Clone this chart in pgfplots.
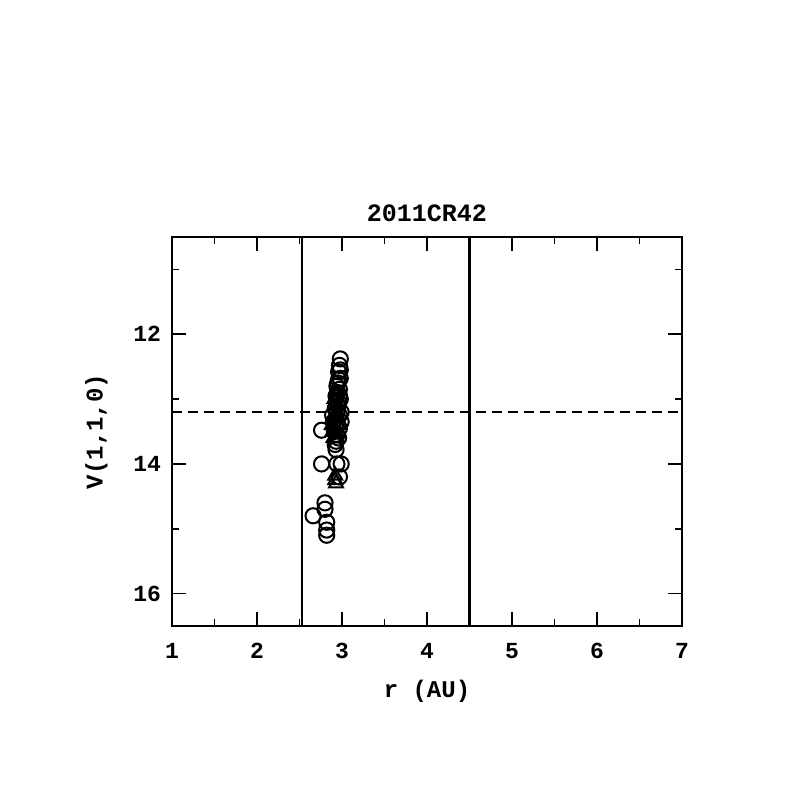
\documentclass[border=0pt]{standalone}
\usepackage{pgfplots}
\pgfplotsset{compat=1.18}
\usepackage{fontspec}
\setmainfont{Liberation Mono}
\begin{document}
\begin{tikzpicture}
\path[use as bounding box] (0,0) rectangle (398.5pt,398.5pt);
\begin{axis}[
  at={(86pt,85.5pt)}, anchor=south west,
  scale only axis, width=255pt, height=194.5pt,
  xmin=1, xmax=7, ymin=10.5, ymax=16.5, y dir=reverse,
  xtick={1,2,3,4,5,6,7}, minor xtick={1.5,2.5,3.5,4.5,5.5,6.5},
  ytick={12,14,16}, minor ytick={11,13,15},
  tick align=inside, major tick length=7pt, minor tick length=3.5pt,
  tick style={black, line width=0.9pt},
  axis line style={line width=1pt},
  /pgf/number format/assume math mode=true,
  ticklabel style={font=\bfseries\fontsize{11.5}{13}\selectfont},
  xticklabel style={yshift=-5pt},
  yticklabel style={xshift=-2pt},
  title={\bfseries\fontsize{12.5}{14}\selectfont 2011CR42},
  title style={yshift=-2pt},
  xlabel={\bfseries\fontsize{12}{13}\selectfont r (AU)},
  ylabel={\bfseries\fontsize{12}{13}\selectfont V(1,1,0)},
  xlabel style={yshift=-4pt},
  ylabel style={yshift=6pt},
  clip=false,
]
\addplot[black, line width=1.1pt] coordinates {(2.53,10.5) (2.53,16.5)};
\addplot[black, line width=1.1pt] coordinates {(4.5,10.5) (4.5,16.5)};
\addplot[black, line width=0.9pt, dash pattern=on 5pt off 3pt] coordinates {(1,13.2) (7,13.2)};
\addplot[only marks, mark=o, mark size=3.8pt, mark options={line width=1pt}] coordinates {
(2.66,14.80) (2.76,13.48) (2.76,14.00) (2.80,14.60) (2.80,14.70) (2.82,14.90) (2.82,15.02) (2.82,15.10)
(2.93,13.78) (2.93,13.65) (2.94,14.00) (2.99,14.00) (2.97,14.20)
(2.98,12.38) (2.97,12.48) (2.96,12.58) (2.95,12.75) (2.94,12.80) (2.98,12.55) (2.98,12.68)
(2.97,12.85) (2.97,12.95) (2.96,13.05) (2.95,13.10) (2.94,13.20) (2.93,13.30) (2.92,13.40)
(2.91,13.50) (2.90,13.35) (2.89,13.25) (2.92,13.15) (2.95,12.90) (2.98,13.00) (2.99,13.20)
(2.99,13.35) (2.97,13.45) (2.94,13.55) (2.92,13.70) (2.96,12.70) (2.93,12.95) (2.97,13.25)
(2.96,13.60) (2.95,13.40)
};
\addplot[only marks, mark=triangle, mark size=4pt, mark options={line width=1pt}] coordinates {
(2.92,14.25) (2.93,14.30) (2.92,14.18) (2.90,13.60) (2.92,13.50) (2.88,13.40) (2.90,13.30)
(2.93,13.20) (2.95,13.10) (2.91,13.00) (2.93,12.90) (2.96,13.40) (2.94,13.60) (2.89,13.50)
};
\end{axis}
\end{tikzpicture}
\end{document}
